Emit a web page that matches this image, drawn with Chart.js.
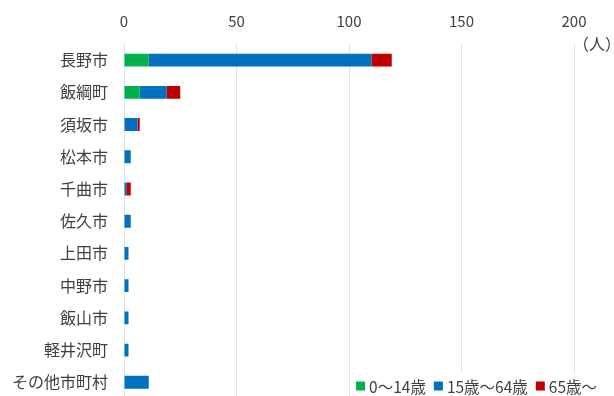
<!DOCTYPE html>
<html lang="ja">
<head>
<meta charset="utf-8">
<script src="https://cdn.jsdelivr.net/npm/chart.js@4/dist/chart.umd.min.js"></script>
<style>
  html, body { margin: 0; padding: 0; background: #fff; overflow: hidden; }
  #wrap { position: relative; width: 614px; height: 424px; }
</style>
</head>
<body>
<div id="wrap"><canvas id="chart"></canvas></div>
<script>
// Municipalities (rows, top to bottom)
const categories = ['長野市', '飯綱町', '須坂市', '松本市', '千曲市', '佐久市', '上田市', '中野市', '飯山市', '軽井沢町', 'その他市町村'];

// Number of people by age group
const age0to14 = [11, 7, 0, 0, 0, 0, 0, 0, 0, 0, 0];
const age15to64 = [99, 12, 6, 3, 1, 3, 2, 2, 2, 2, 11];
const age65plus = [9, 6, 1, 0, 2, 0, 0, 0, 0, 0, 0];

const seriesNames = ['0〜14歳', '15歳〜64歳', '65歳〜'];
const axisTicks = [0, 50, 100, 150, 200];
const unitLabel = '（人）';

const FONT = '"Noto Sans CJK JP", "Noto Sans", sans-serif';
const TEXT = '#404040';

// Unit caption and the boxed legend in the lower right corner
const extras = {
  id: 'extras',
  afterDraw(chart) {
    const ctx = chart.ctx;
    ctx.save();
    ctx.font = '16px ' + FONT;
    ctx.fillStyle = TEXT;
    ctx.textBaseline = 'middle';
    ctx.textAlign = 'center';
    ctx.fillText(unitLabel, 597, 44);

    // legend
    ctx.font = '15.5px ' + FONT;
    ctx.textAlign = 'left';
    const ds = chart.data.datasets;
    const box = 9, gap = 4, spacing = 8;
    let total = 0;
    const widths = ds.map(d => ctx.measureText(d.label).width);
    widths.forEach(w => total += box + gap + w);
    total += spacing * (ds.length - 1);
    let x = 597 - total;
    const y = 386;
    ctx.fillStyle = '#fff';
    ctx.fillRect(x - 6, y - 13, total + 12, 26);
    ds.forEach((d, i) => {
      ctx.fillStyle = d.backgroundColor;
      ctx.fillRect(x, y - box / 2, box, box);
      x += box + gap;
      ctx.fillStyle = TEXT;
      ctx.fillText(d.label, x, y + 1);
      x += widths[i] + spacing;
    });
    ctx.restore();
  }
};

new Chart(document.getElementById('chart'), {
  type: 'bar',
  data: {
    labels: categories,
    datasets: [
      { label: seriesNames[0], data: age0to14, backgroundColor: '#00b050' },
      { label: seriesNames[1], data: age15to64, backgroundColor: '#0070c0' },
      { label: seriesNames[2], data: age65plus, backgroundColor: '#c00000' }
    ]
  },
  options: {
    indexAxis: 'y',
    responsive: true,
    maintainAspectRatio: false,
    animation: false,
    layout: { padding: { left: 0, right: 40, top: 0, bottom: 1 } },
    datasets: { bar: { categoryPercentage: 0.4, barPercentage: 1, borderWidth: 0 } },
    plugins: { legend: { display: false }, tooltip: { enabled: false } },
    scales: {
      x: {
        position: 'top',
        stacked: true,
        min: axisTicks[0],
        max: axisTicks[axisTicks.length - 1],
        afterBuildTicks(scale) { scale.ticks = axisTicks.map(v => ({ value: v })); },
        afterFit(scale) { scale.height = 44; },
        border: { display: false },
        grid: { color: '#d9e2f1', lineWidth: 1, drawTicks: false },
        ticks: { padding: 14, color: TEXT, font: { family: FONT, size: 15 } }
      },
      y: {
        stacked: true,
        afterFit(scale) { scale.width = 124; },
        border: { display: false },
        grid: { display: false, drawTicks: false },
        ticks: { padding: 16, color: TEXT, font: { family: FONT, size: 16 } }
      }
    }
  },
  plugins: [extras]
});
</script>
</body>
</html>
